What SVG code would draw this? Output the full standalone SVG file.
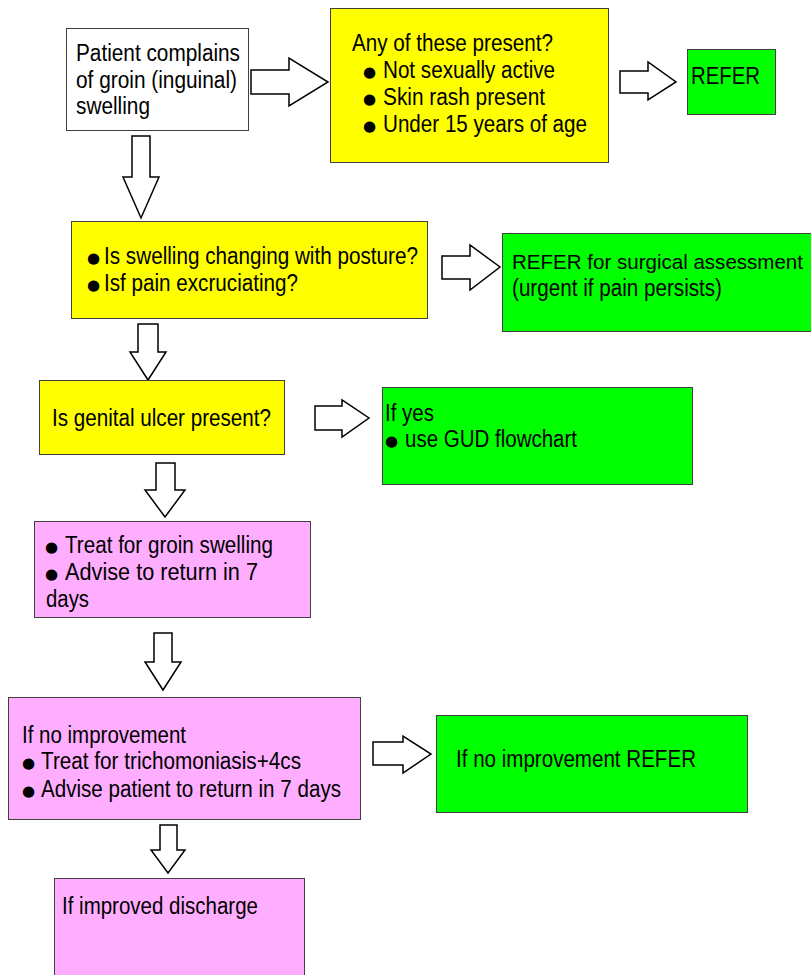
<svg xmlns="http://www.w3.org/2000/svg" width="811" height="975" viewBox="0 0 811 975">
<style>
.box{stroke:#404040;stroke-width:1}
.w{fill:#ffffff}.y{fill:#ffff00}.g{fill:#00ff00}.p{fill:#ffaeff}
.t{font-family:"Liberation Sans",Arial,sans-serif;font-size:23px;fill:#000}
.b{font-family:"DejaVu Sans",sans-serif;font-size:15px;fill:#000}
.arr{fill:#ffffff;stroke:#000;stroke-width:1.5;stroke-linejoin:miter}
</style>
<rect width="811" height="975" fill="#ffffff"/>
<g id="connectors">
<polygon class="arr" points="251,70 289,70 289,58 328,82 289,106 289,94 251,94"/>
<polygon class="arr" points="620,71 648,71 648,62 676,82 648,100 648,93 620,93"/>
<polygon class="arr" points="132,136 150,136 150,177 159,177 141,218 123,177 132,177"/>
<polygon class="arr" points="442,256 470,256 470,245 500,267 470,290 470,279 442,279"/>
<polygon class="arr" points="138,324 158,324 158,352 166,352 148,380 130,352 138,352"/>
<polygon class="arr" points="315,406 342,406 342,400 369,418 342,437 342,430 315,430"/>
<polygon class="arr" points="156,463 175,463 175,490 185,490 165,517 145,490 156,490"/>
<polygon class="arr" points="154,633 172,633 172,662 181,662 163,690 145,662 154,662"/>
<polygon class="arr" points="373,742 403,742 403,736 431,754 403,773 403,765 373,765"/>
<polygon class="arr" points="160,825 177,825 177,850 185,850 168,873 151,850 160,850"/>
</g>
<g id="n1">
<rect class="box w" x="66.5" y="28.5" width="182" height="102"/>
<text class="t" x="76" y="61" textLength="164" lengthAdjust="spacingAndGlyphs">Patient complains</text>
<text class="t" x="76" y="88" textLength="161" lengthAdjust="spacingAndGlyphs">of groin (inguinal)</text>
<text class="t" x="76" y="114" textLength="74" lengthAdjust="spacingAndGlyphs">swelling</text>
</g>
<g id="n2">
<rect class="box y" x="330.5" y="8.5" width="278" height="154"/>
<text class="t" x="352" y="51" textLength="201" lengthAdjust="spacingAndGlyphs">Any of these present?</text>
<text class="b" x="363" y="77">●</text>
<text class="t" x="383" y="78" textLength="172" lengthAdjust="spacingAndGlyphs">Not sexually active</text>
<text class="b" x="363" y="104">●</text>
<text class="t" x="383" y="105" textLength="162" lengthAdjust="spacingAndGlyphs">Skin rash present</text>
<text class="b" x="363" y="131">●</text>
<text class="t" x="383" y="132" textLength="204" lengthAdjust="spacingAndGlyphs">Under 15 years of age</text>
</g>
<g id="n3">
<rect class="box g" x="687.5" y="49.5" width="88" height="65"/>
<text class="t" x="691" y="84" textLength="69" lengthAdjust="spacingAndGlyphs">REFER</text>
</g>
<g id="n4">
<rect class="box y" x="71.5" y="221.5" width="356" height="97"/>
<text class="b" x="87" y="263">●</text>
<text class="t" x="104" y="264" textLength="314" lengthAdjust="spacingAndGlyphs">Is swelling changing with posture?</text>
<text class="b" x="87" y="290">●</text>
<text class="t" x="104" y="291" textLength="194" lengthAdjust="spacingAndGlyphs">Isf pain excruciating?</text>
</g>
<g id="n5">
<rect class="box g" x="502.5" y="233.5" width="312" height="98"/>
<text class="t" x="512" y="269" font-size="21" textLength="291" lengthAdjust="spacingAndGlyphs" style="font-size:21px">REFER for surgical assessment</text>
<text class="t" x="512" y="296" textLength="210" lengthAdjust="spacingAndGlyphs">(urgent if pain persists)</text>
</g>
<g id="n6">
<rect class="box y" x="39.5" y="380.5" width="245" height="74"/>
<text class="t" x="52" y="426" textLength="219" lengthAdjust="spacingAndGlyphs">Is genital ulcer present?</text>
</g>
<g id="n7">
<rect class="box g" x="382.5" y="387.5" width="310" height="97"/>
<text class="t" x="385" y="421" textLength="49" lengthAdjust="spacingAndGlyphs">If yes</text>
<text class="b" x="385" y="446">●</text>
<text class="t" x="405" y="447" textLength="172" lengthAdjust="spacingAndGlyphs">use GUD flowchart</text>
</g>
<g id="n8">
<rect class="box p" x="34.5" y="521.5" width="276" height="96"/>
<text class="b" x="45" y="552">●</text>
<text class="t" x="65" y="553" textLength="208" lengthAdjust="spacingAndGlyphs">Treat for groin swelling</text>
<text class="b" x="45" y="579">●</text>
<text class="t" x="65" y="580" textLength="193" lengthAdjust="spacingAndGlyphs">Advise to return in 7</text>
<text class="t" x="46" y="607" textLength="43" lengthAdjust="spacingAndGlyphs">days</text>
</g>
<g id="n9">
<rect class="box p" x="8.5" y="697.5" width="352" height="122"/>
<text class="t" x="22" y="743" textLength="164" lengthAdjust="spacingAndGlyphs">If no improvement</text>
<text class="b" x="22" y="768">●</text>
<text class="t" x="41" y="769" textLength="260" lengthAdjust="spacingAndGlyphs">Treat for trichomoniasis+4cs</text>
<text class="b" x="22" y="796">●</text>
<text class="t" x="41" y="797" textLength="300" lengthAdjust="spacingAndGlyphs">Advise patient to return in 7 days</text>
</g>
<g id="n10">
<rect class="box g" x="436.5" y="715.5" width="311" height="97"/>
<text class="t" x="456" y="767" textLength="240" lengthAdjust="spacingAndGlyphs">If no improvement REFER</text>
</g>
<g id="n11">
<rect class="box p" x="54.5" y="878.5" width="250" height="110"/>
<text class="t" x="62" y="914" textLength="196" lengthAdjust="spacingAndGlyphs">If improved discharge</text>
</g>
</svg>
